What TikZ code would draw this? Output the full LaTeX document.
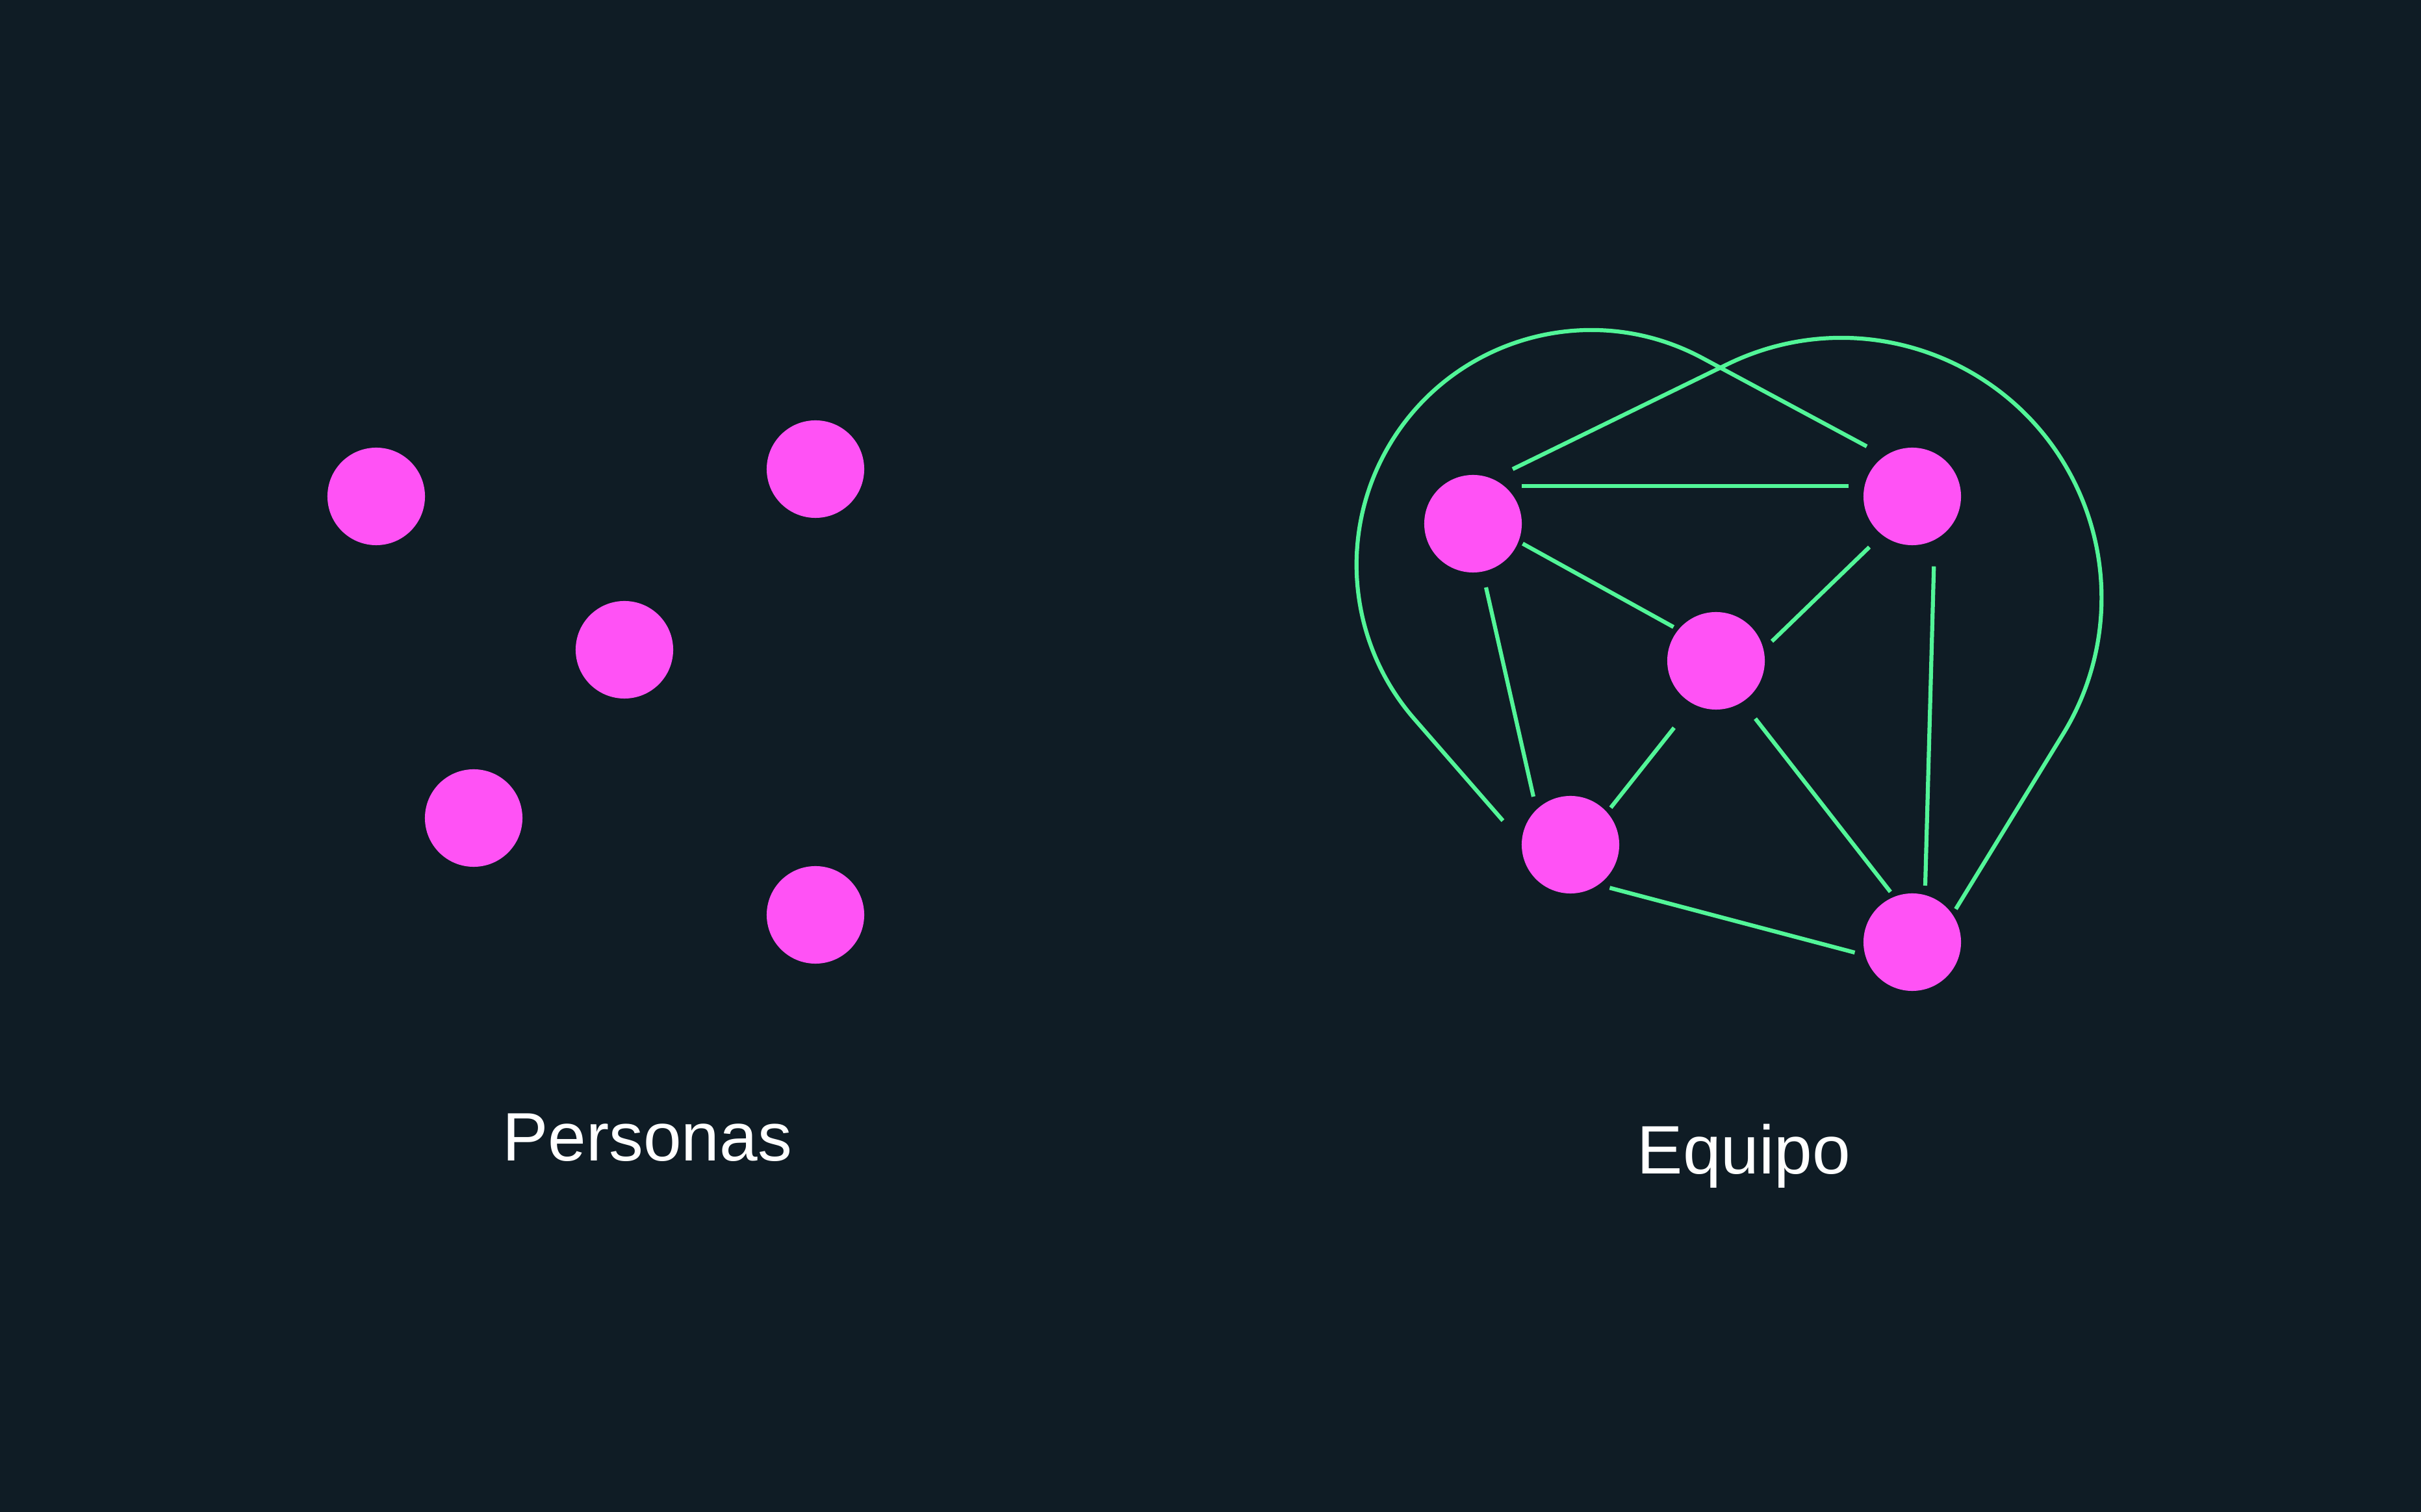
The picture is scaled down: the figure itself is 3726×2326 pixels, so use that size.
\documentclass[tikz,border=0pt]{standalone}
\usepackage{fontspec}
\setmainfont{Liberation Sans}
\definecolor{bg}{HTML}{0F1C25}
\definecolor{dot}{HTML}{FF52F5}
\definecolor{link}{HTML}{52F598}
\begin{document}
\begin{tikzpicture}[x=0.01cm,y=0.01cm,
  person/.style={circle,fill=dot,draw=none,minimum size=1.5cm,inner sep=0pt},
  edge/.style={draw=link,line width=0.062cm,line cap=butt,line join=round},
  lbl/.style={text=white,font=\fontsize{30}{36}\selectfont,anchor=base,inner sep=0pt}]
\useasboundingbox (0,0) rectangle (3726,2326);
\fill[bg] (-20,-20) rectangle (3746,2346);

% Personas
\node[person] (p1) at (579,1562) {};
\node[person] (p2) at (1255,1604) {};
\node[person] (p3) at (961,1326) {};
\node[person] (p4) at (729,1067) {};
\node[person] (p5) at (1255,918) {};
\node[lbl] (tp) at (996,540) {Personas};

% Equipo
\node[person] (a) at (2267,1520) {};
\node[person] (b) at (2943,1562) {};
\node[person] (c) at (2641,1309) {};
\node[person] (d) at (2417,1026) {};
\node[person] (e) at (2943,876) {};
\node[lbl] (te) at (2684,519) {Equipo};

% connector ends
\coordinate (ab1) at (2342,1578);   \coordinate (ab2) at (2845,1578);
\coordinate (ac1) at (2343.5,1489.3); \coordinate (ac2) at (2575.6,1361);
\coordinate (cb1) at (2727,1339);   \coordinate (cb2) at (2877,1484);
\coordinate (ad1) at (2287,1422);   \coordinate (ad2) at (2360,1100);
\coordinate (dc1) at (2479,1083);   \coordinate (dc2) at (2576.5,1206);
\coordinate (ce1) at (2701.5,1220); \coordinate (ce2) at (2909.4,953.4);
\coordinate (be1) at (2976.3,1454.3); \coordinate (be2) at (2963,963);
\coordinate (de1) at (2477.4,959.6); \coordinate (de2) at (2854.5,860);
\coordinate (l1s) at (2328,1604);   \coordinate (l1t) at (2658.5,1765.4); \coordinate (l1e) at (3010,927);
\coordinate (l2s) at (2873,1639);   \coordinate (l2t) at (2619.9,1775.0); \coordinate (l2e) at (2313,1063);

\draw[edge] (ab1) -- (ab2);
\draw[edge] (ac1) -- (ac2);
\draw[edge] (cb1) -- (cb2);
\draw[edge] (ad1) -- (ad2);
\draw[edge] (dc1) -- (dc2);
\draw[edge] (ce1) -- (ce2);
\draw[edge] (be1) -- (be2);
\draw[edge] (de1) -- (de2);
\draw[edge] (l1s) -- (l1t) arc[start angle=116.03, end angle=-31.44, radius=4cm] -- (l1e);
\draw[edge] (l2s) -- (l2t) arc[start angle=61.75, end angle=220.98, radius=3.61cm] -- (l2e);
\end{tikzpicture}
\end{document}
